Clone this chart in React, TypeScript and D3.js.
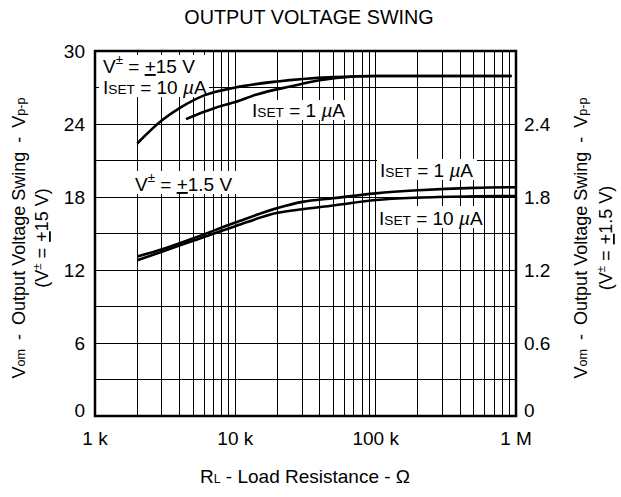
import React from "react";
import * as d3 from "d3";

const W = 621;
const H = 497;

// X decades (ohms)
const xTickValues = [1000, 10000, 100000, 1000000];
const xTickLabels = ["1 k", "10 k", "100 k", "1 M"];
const leftTickValues = [0, 6, 12, 18, 24, 30];
const rightTickValues = [0, 0.6, 1.2, 1.8, 2.4];
const hGridLeft = [3, 6, 9, 12, 15, 18, 21, 24, 27];

// V± = ±15 V (left axis, Vp-p)
const r15_10uA = [2000, 3000, 4000, 6000, 10000, 20000, 50000, 100000, 930000];
const v15_10uA = [22.4, 24.3, 25.3, 26.35, 27.0, 27.5, 27.85, 27.95, 27.95];
const r15_1uA = [4450, 6000, 8000, 10000, 14000, 25000, 40000, 70000, 100000, 930000];
const v15_1uA = [24.4, 25.0, 25.5, 25.8, 26.4, 27.1, 27.6, 27.9, 27.95, 27.95];

// V± = ±1.5 V (right axis, Vp-p)
const r1_5 = [2000, 3000, 5000, 10000, 20000, 30000, 50000, 100000, 200000, 500000, 1000000];
const v1_5_1uA = [1.31, 1.37, 1.46, 1.59, 1.71, 1.76, 1.79, 1.83, 1.855, 1.875, 1.88];
const v1_5_10uA = [1.28, 1.35, 1.44, 1.56, 1.67, 1.70, 1.73, 1.775, 1.795, 1.805, 1.808];

const FONT = "'Liberation Sans', Arial, sans-serif";

function Iset({ x, y, val, fs }: { x: number; y: number; val: string; fs: number }) {
  return (
    <text x={x} y={y} fontSize={fs} fontFamily={FONT}>
      I<tspan fontSize={fs * 0.72}>SET</tspan> = {val} <tspan fontStyle="italic">µ</tspan>A
    </text>
  );
}

function VLabel({ x, y, val, fs }: { x: number; y: number; val: string; fs: number }) {
  return (
    <text x={x} y={y} fontSize={fs} fontFamily={FONT}>
      V<tspan fontSize={fs * 0.7} dy={-fs * 0.45}>±</tspan>
      <tspan dy={fs * 0.45}> = </tspan>
      <tspan textDecoration="underline">+</tspan>{val} V
    </text>
  );
}

function AxisTitle({ cx, cy, val, fs, gap2 }: { cx: number; cy: number; val: string; fs: number; gap2: number }) {
  const sub = fs * 0.7;
  return (
    <g transform={`translate(${cx}, ${cy}) rotate(-90)`}>
      <text x={0} y={0} textAnchor="middle" fontSize={fs} fontFamily={FONT}>
        V<tspan fontSize={sub}>om</tspan>
        <tspan dx={9}>-</tspan>
        <tspan dx={9}>Output Voltage Swing</tspan>
        <tspan dx={9}>-</tspan>
        <tspan dx={9}>V</tspan><tspan fontSize={sub}>p-p</tspan>
      </text>
      <text x={0} y={gap2} textAnchor="middle" fontSize={fs} fontFamily={FONT}>
        (V<tspan fontSize={fs * 0.65} dy={-7}>±</tspan>
        <tspan dy={7} dx={5}>=</tspan>
        <tspan dx={6} textDecoration="underline">+</tspan>{val} V)
      </text>
    </g>
  );
}

export default function App() {
  const left = 95, right = 516, top = 51, bottom = 416;
  const x = d3.scaleLog().domain([1000, 1000000]).range([left, right]);
  const yL = d3.scaleLinear().domain([0, 30]).range([bottom, top]);
  const yR = d3.scaleLinear().domain([0, 3]).range([bottom, top]);

  const vGrid: number[] = [];
  for (let dec = 1000; dec < 1000000; dec *= 10) {
    for (let k = 2; k <= 9; k++) vGrid.push(dec * k);
    if (dec > 1000) vGrid.push(dec);
  }

  const lineL = d3.line<[number, number]>().x(d => x(d[0])).y(d => yL(d[1])).curve(d3.curveMonotoneX);
  const lineR = d3.line<[number, number]>().x(d => x(d[0])).y(d => yR(d[1])).curve(d3.curveMonotoneX);
  const zip = (a: number[], b: number[]) => a.map((v, i) => [v, b[i]] as [number, number]);

  const fs = 19;
  const afs = 18;

  const whiteBoxes = [
    { x: 99, y: 55, w: 110, h: 42 },
    { x: 249, y: 100, w: 99, h: 20 },
    { x: 132, y: 171, w: 110, h: 23 },
    { x: 377, y: 159, w: 100, h: 21 },
    { x: 376, y: 206, w: 108, h: 22 },
  ];

  return (
    <svg width={W} height={H} style={{ position: "absolute", left: 0, top: 0, background: "#fff" }}>
      <rect x={0} y={0} width={W} height={H} fill="#fff" />
      <text x={309} y={24} textAnchor="middle" fontSize={19.8} fontFamily={FONT}>
        OUTPUT VOLTAGE SWING
      </text>

      {/* grid */}
      <g stroke="#000" strokeWidth={1} shapeRendering="crispEdges">
        {vGrid.map(v => (
          <line key={"v" + v} x1={x(v)} x2={x(v)} y1={top} y2={bottom} />
        ))}
        {hGridLeft.map(v => (
          <line key={"h" + v} x1={left} x2={right} y1={yL(v)} y2={yL(v)} />
        ))}
      </g>

      {/* label backgrounds */}
      {whiteBoxes.map((b, i) => (
        <rect key={i} x={b.x} y={b.y} width={b.w} height={b.h} fill="#fff" />
      ))}

      {/* curves */}
      <g fill="none" stroke="#000" strokeWidth={2.6}>
        <path d={lineL(zip(r15_10uA, v15_10uA)) || ""} />
        <path d={lineL(zip(r15_1uA, v15_1uA)) || ""} />
        <path d={lineR(zip(r1_5, v1_5_1uA)) || ""} />
        <path d={lineR(zip(r1_5, v1_5_10uA)) || ""} />
      </g>

      {/* frame */}
      <rect x={left} y={top} width={right - left} height={bottom - top} fill="none" stroke="#000" strokeWidth={2.5} />

      {/* annotations */}
      <VLabel x={103} y={73} val="15" fs={fs} />
      <Iset x={103} y={94} val="10" fs={fs} />
      <Iset x={252} y={117} val="1" fs={fs} />
      <VLabel x={135} y={191} val="1.5" fs={fs} />
      <Iset x={380} y={177} val="1" fs={fs} />
      <Iset x={379} y={225} val="10" fs={fs} />

      {/* left ticks */}
      {leftTickValues.map(v => (
        <text key={"l" + v} x={85} y={yL(v) + (v === 0 ? -6 : 0)} dy="0.36em" textAnchor="end" fontSize={fs} fontFamily={FONT}>
          {v}
        </text>
      ))}
      {/* right ticks */}
      {rightTickValues.map(v => (
        <text key={"r" + v} x={524} y={yR(v) + (v === 0 ? -6 : 0)} dy="0.36em" textAnchor="start" fontSize={fs} fontFamily={FONT}>
          {v === 0 ? "0" : v.toFixed(1)}
        </text>
      ))}
      {/* x ticks */}
      {xTickValues.map((v, i) => (
        <text key={"x" + v} x={x(v)} y={445} textAnchor="middle" fontSize={fs} fontFamily={FONT}>
          {xTickLabels[i]}
        </text>
      ))}

      {/* x title */}
      <text x={305} y={483} textAnchor="middle" fontSize={fs} fontFamily={FONT}>
        R<tspan fontSize={fs * 0.65}>L</tspan> - Load Resistance - Ω
      </text>

      <AxisTitle cx={25} cy={238} val="15" fs={afs} gap2={23} />
      <AxisTitle cx={587} cy={238} val="1.5" fs={afs} gap2={25} />
    </svg>
  );
}
